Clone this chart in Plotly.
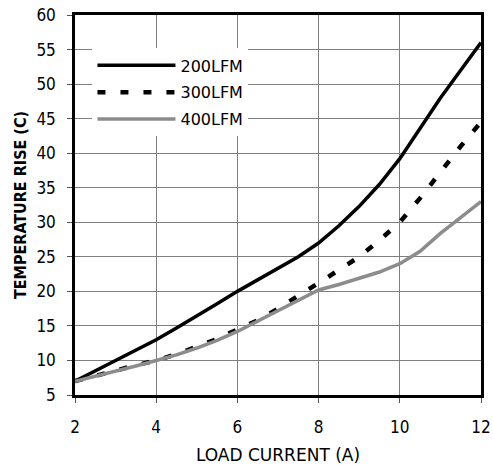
import plotly.graph_objects as go

current = [2, 2.5, 3, 3.5, 4, 4.5, 5, 5.5, 6, 6.5, 7, 7.5, 8, 8.5, 9, 9.5, 10, 10.5, 11, 11.5, 12]
rise_200 = [7, 8.5, 9.9, 11.4, 13, 14.7, 16.4, 18.2, 20, 21.7, 23.3, 25, 27, 29.5, 32.3, 35.5, 39.2, 43.5, 48, 52, 56]
rise_300 = [7, 7.8, 8.5, 9.3, 10, 10.9, 12, 13.1, 14.5, 15.8, 17.5, 19.3, 21.2, 23.1, 25, 27.4, 30, 33.5, 37.3, 41, 44.5]
rise_400 = [7, 7.7, 8.4, 9.2, 10, 10.8, 11.8, 12.9, 14.2, 15.7, 17.3, 18.8, 20.2, 21, 21.9, 22.8, 24, 25.8, 28.4, 30.7, 33]
names = ["200LFM", "300LFM", "400LFM"]

FONT = "DejaVu Sans Condensed, DejaVu Sans"
FONT_W = "DejaVu Sans"

fig = go.Figure()
fig.add_trace(go.Scatter(x=current, y=rise_200, mode="lines", name=names[0], legendgroup="a",
                         line=dict(color="#000000", width=3.5)))
fig.add_trace(go.Scatter(x=current, y=rise_300, mode="lines", name=names[1], legendgroup="b",
                         line=dict(color="#000000", width=4.5, dash="8px,15px")))
fig.add_trace(go.Scatter(x=current, y=rise_400, mode="lines", name=names[2], legendgroup="c",
                         line=dict(color="#8c8c8c", width=3.5)))

fig.update_layout(
    width=493, height=465,
    margin=dict(l=75, r=12, t=15, b=70, autoexpand=False),
    paper_bgcolor="white", plot_bgcolor="white",
    font=dict(family=FONT, size=17, color="#000000"),
    showlegend=True,
    legend=dict(x=0.043, y=0.912, xanchor="left", yanchor="top",
                bgcolor="white", borderwidth=0, itemwidth=78,
                tracegroupgap=3, font=dict(family=FONT_W, size=16)),
    xaxis=dict(range=[2, 12], tickvals=[2, 4, 6, 8, 10, 12],
               showgrid=True, gridcolor="#7f7f7f", gridwidth=1,
               showline=True, linecolor="#000000", linewidth=2.5, mirror=True,
               ticks="outside", ticklen=5, tickcolor="#555555",
               ticklabelstandoff=10, zeroline=False, automargin=False,
               ticklabeloverflow="allow",
               title=dict(text="LOAD CURRENT (A)", standoff=14,
                          font=dict(family=FONT_W, size=17))),
    yaxis=dict(range=[5, 60], tickvals=list(range(5, 61, 5)),
               showgrid=True, gridcolor="#7f7f7f", gridwidth=1,
               showline=True, linecolor="#000000", linewidth=2.5, mirror=True,
               ticks="outside", ticklen=5, tickcolor="#555555",
               ticklabelstandoff=8, zeroline=False, automargin=False,
               ticklabeloverflow="allow",
               title=dict(text="<b>TEMPERATURE RISE (C)</b>", standoff=6,
                          font=dict(family=FONT, size=16))),
)

fig.write_html("out.html", config={"displayModeBar": False},
               post_script="document.body.style.margin='0';")
